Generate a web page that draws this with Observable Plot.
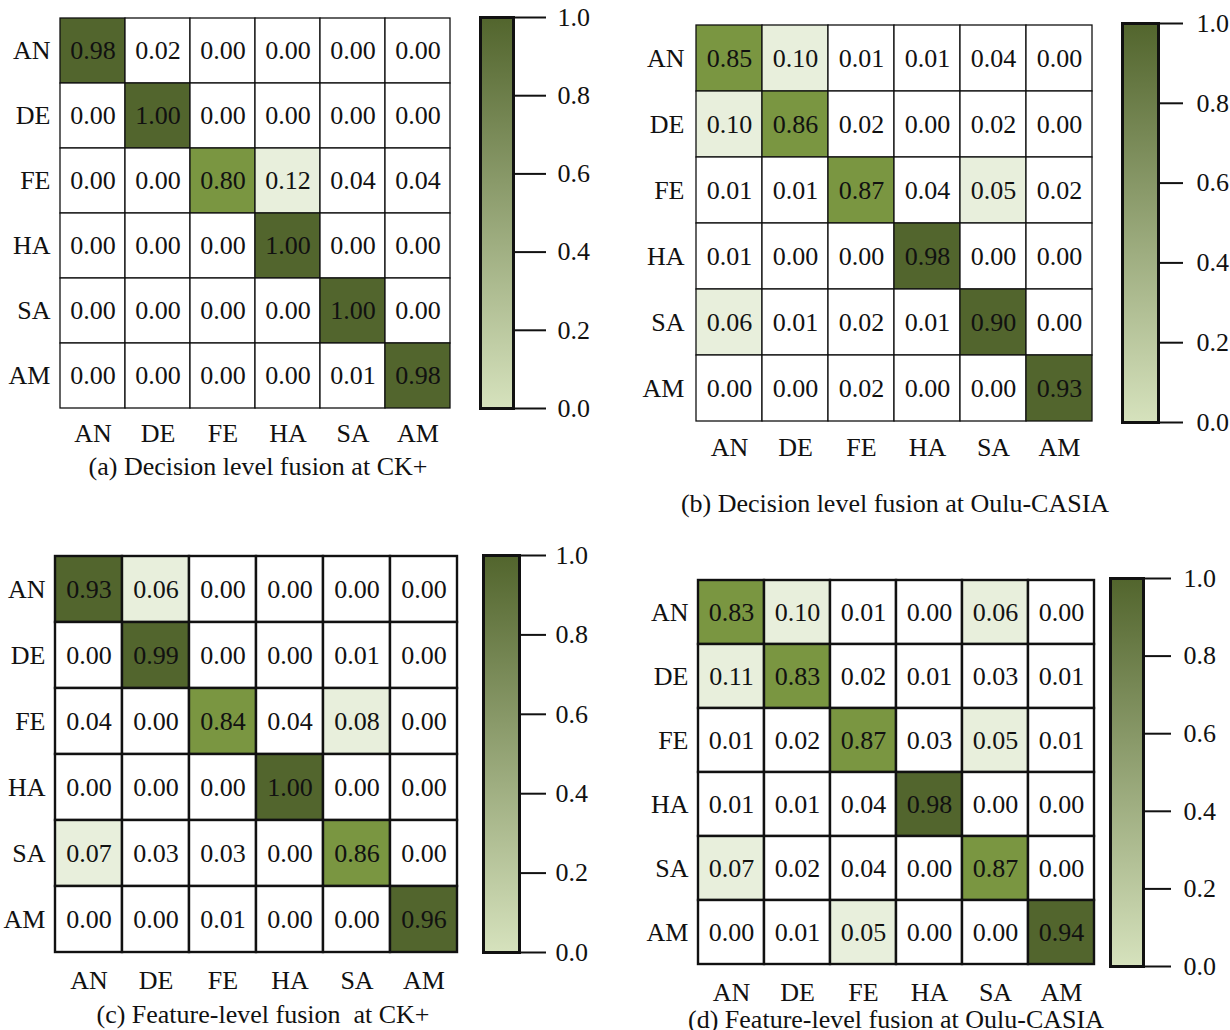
<!DOCTYPE html>
<html>
<head>
<meta charset="utf-8">
<script src="https://cdn.jsdelivr.net/npm/d3@7"></script>
<script src="https://cdn.jsdelivr.net/npm/@observablehq/plot@0.6"></script>
<style>
  body { margin: 0; background: white; }
  #root { position: relative; width: 1230px; height: 1030px; overflow: hidden; background: white; font-family: "Liberation Serif", "Times New Roman", serif; }
  #root svg { position: absolute; left: 0; top: 0; max-width: none !important; }
  .title { position: absolute; width: 600px; text-align: center; font-size: 26px; line-height: 26px; color: #111; white-space: pre; }
</style>
</head>
<body>
<div id="root"></div>
<script>
// ---- data ----
const categories = ["AN", "DE", "FE", "HA", "SA", "AM"];

const ckDecision = [
  [0.98, 0.02, 0.00, 0.00, 0.00, 0.00],
  [0.00, 1.00, 0.00, 0.00, 0.00, 0.00],
  [0.00, 0.00, 0.80, 0.12, 0.04, 0.04],
  [0.00, 0.00, 0.00, 1.00, 0.00, 0.00],
  [0.00, 0.00, 0.00, 0.00, 1.00, 0.00],
  [0.00, 0.00, 0.00, 0.00, 0.01, 0.98]
];
const ouluDecision = [
  [0.85, 0.10, 0.01, 0.01, 0.04, 0.00],
  [0.10, 0.86, 0.02, 0.00, 0.02, 0.00],
  [0.01, 0.01, 0.87, 0.04, 0.05, 0.02],
  [0.01, 0.00, 0.00, 0.98, 0.00, 0.00],
  [0.06, 0.01, 0.02, 0.01, 0.90, 0.00],
  [0.00, 0.00, 0.02, 0.00, 0.00, 0.93]
];
const ckFeature = [
  [0.93, 0.06, 0.00, 0.00, 0.00, 0.00],
  [0.00, 0.99, 0.00, 0.00, 0.01, 0.00],
  [0.04, 0.00, 0.84, 0.04, 0.08, 0.00],
  [0.00, 0.00, 0.00, 1.00, 0.00, 0.00],
  [0.07, 0.03, 0.03, 0.00, 0.86, 0.00],
  [0.00, 0.00, 0.01, 0.00, 0.00, 0.96]
];
const ouluFeature = [
  [0.83, 0.10, 0.01, 0.00, 0.06, 0.00],
  [0.11, 0.83, 0.02, 0.01, 0.03, 0.01],
  [0.01, 0.02, 0.87, 0.03, 0.05, 0.01],
  [0.01, 0.01, 0.04, 0.98, 0.00, 0.00],
  [0.07, 0.02, 0.04, 0.00, 0.87, 0.00],
  [0.00, 0.01, 0.05, 0.00, 0.00, 0.94]
];
const colorbarTicks = [0.0, 0.2, 0.4, 0.6, 0.8, 1.0];
const titles = [
  "(a) Decision level fusion at CK+",
  "(b) Decision level fusion at Oulu-CASIA",
  "(c) Feature-level fusion  at CK+",
  "(d) Feature-level fusion at Oulu-CASIA"
];

// ---- styles ----
const FONT = "'Liberation Serif', 'Times New Roman', serif";
const cellColors = { domain: [0.05, 0.8, 0.9], range: ["#ffffff", "#e8efdc", "#7a9641", "#52652d"] };
const barLow = "#d6e2bd", barHigh = "#52652d";

const panels = [
  { m: ckDecision,   t: titles[0], mx0: 60,  mx1: 450,  my0: 17,  my1: 408, cb0: 480,  cb1: 513,  tick: 32, tpad: 12, xpad: 15, sw: 1.3, tx: 258, ty: 467 },
  { m: ouluDecision, t: titles[1], mx0: 694, mx1: 1094, my0: 23,  my1: 422, cb0: 1122, cb1: 1158, tick: 24, tpad: 14, xpad: 15, sw: 1.3, tx: 895, ty: 504 },
  { m: ckFeature,    t: titles[2], mx0: 55,  mx1: 457,  my0: 555, my1: 952, cb0: 483,  cb1: 519,  tick: 26, tpad: 10, xpad: 18, sw: 2.4, tx: 263, ty: 1015 },
  { m: ouluFeature,  t: titles[3], mx0: 698, mx1: 1094, my0: 578, my1: 966, cb0: 1110, cb1: 1143, tick: 27, tpad: 13, xpad: 16, sw: 2.4, tx: 896, ty: 1020 }
];

const root = document.getElementById("root");

panels.forEach((p, pi) => {
  const data = [];
  p.m.forEach((row, i) => row.forEach((v, j) => data.push({ actual: categories[i], pred: categories[j], value: v })));

  const matrix = Plot.plot({
    width: p.mx1 + 10,
    height: p.my1 + 60,
    marginLeft: p.mx0,
    marginRight: 10,
    marginTop: p.my0,
    marginBottom: 60,
    style: { background: "transparent", fontFamily: FONT, fontSize: "26px", color: "#111" },
    x: { domain: categories, padding: 0, label: null, axis: null },
    y: { domain: categories, padding: 0, label: null, axis: null },
    color: { type: "threshold", domain: cellColors.domain, range: cellColors.range },
    marks: [
      Plot.cell(data, { x: "pred", y: "actual", fill: "value", stroke: "#111", strokeWidth: p.sw }),
      Plot.text(data, { x: "pred", y: "actual", text: d => d.value.toFixed(2), fill: "#111", fontSize: 26 }),
      Plot.axisX({ anchor: "bottom", tickSize: 0, tickPadding: p.xpad, fontSize: 26, label: null }),
      Plot.axisY({ anchor: "left", tickSize: 0, tickPadding: 10, fontSize: 26, label: null })
    ]
  });
  root.appendChild(matrix);

  const gid = "cbgrad" + pi;
  const bar = Plot.plot({
    width: p.cb1 + 90,
    height: p.my1 + 20,
    marginLeft: p.cb0,
    marginRight: 90,
    marginTop: p.my0,
    marginBottom: 20,
    style: { background: "transparent", fontFamily: FONT, fontSize: "26px", color: "#111" },
    x: { domain: [0, 1], axis: null },
    y: { domain: [0, 1], axis: null },
    marks: [
      Plot.frame({ fill: `url(#${gid})`, stroke: "#111", strokeWidth: 3 }),
      Plot.axisY({ anchor: "right", ticks: colorbarTicks, tickSize: p.tick, tickPadding: p.tpad,
                   tickFormat: d => d.toFixed(1), strokeWidth: 2, fontSize: 26, label: null })
    ]
  });
  const defs = d3.select(bar).insert("defs", ":first-child");
  const grad = defs.append("linearGradient").attr("id", gid)
    .attr("x1", 0).attr("y1", 1).attr("x2", 0).attr("y2", 0);
  grad.append("stop").attr("offset", "0%").attr("stop-color", barLow);
  grad.append("stop").attr("offset", "100%").attr("stop-color", barHigh);
  root.appendChild(bar);

  const tdiv = document.createElement("div");
  tdiv.className = "title";
  tdiv.textContent = p.t;
  tdiv.style.left = (p.tx - 300) + "px";
  tdiv.style.top = (p.ty - 13) + "px";
  root.appendChild(tdiv);
});
</script>
</body>
</html>
